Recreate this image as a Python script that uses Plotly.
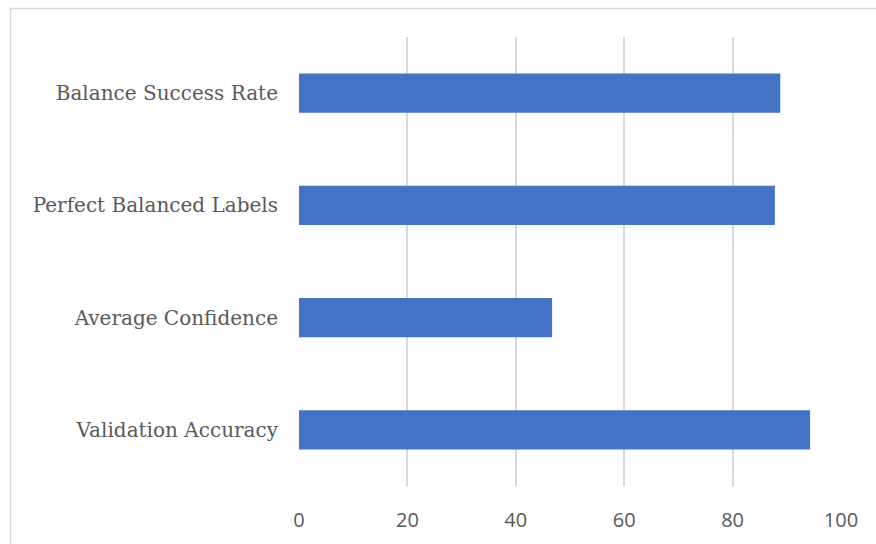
import plotly.graph_objects as go

categories = ["Validation Accuracy", "Average Confidence", "Perfect Balanced Labels", "Balance Success Rate"]
values = [94.3, 46.7, 87.8, 88.8]
x_ticks = [0, 20, 40, 60, 80, 100]

W, H = 876, 544
L, R, T, B = 299, 35, 37, 58
pw, ph = W - L - R, H - T - B

fig = go.Figure(go.Bar(
    y=categories, x=values, orientation="h",
    marker=dict(color="#4472C4", line=dict(width=0)),
    width=0.35,
))

fig.update_layout(
    width=W, height=H,
    margin=dict(l=L, r=R, t=T, b=B, pad=0),
    paper_bgcolor="white", plot_bgcolor="white",
    showlegend=False,
    xaxis=dict(
        range=[0, 100], tickvals=x_ticks, showgrid=True, gridcolor="#D9D9D9", gridwidth=1.5,
        zeroline=False, showline=False, ticks="",
        tickfont=dict(family="Open Sans, Liberation Sans, sans-serif", size=20, color="#595959"),
        ticklabelstandoff=20,
    ),
    yaxis=dict(
        showgrid=False, zeroline=False, showline=False, ticks="",
        tickfont=dict(family="DejaVu Serif, serif", size=20, color="#595959"),
        ticklabelstandoff=20,
        range=[-0.5, 3.5],
    ),
    shapes=[dict(
        type="rect", xref="paper", yref="paper",
        x0=(10.5 - L) / pw, x1=(W + 5 - L) / pw,
        y0=(H - (H + 5) - B) / ph, y1=(H - 8.5 - B) / ph,
        line=dict(color="#D9D9D9", width=1.5), fillcolor="rgba(0,0,0,0)", layer="below",
    )],
)

fig.write_html("out.html")
